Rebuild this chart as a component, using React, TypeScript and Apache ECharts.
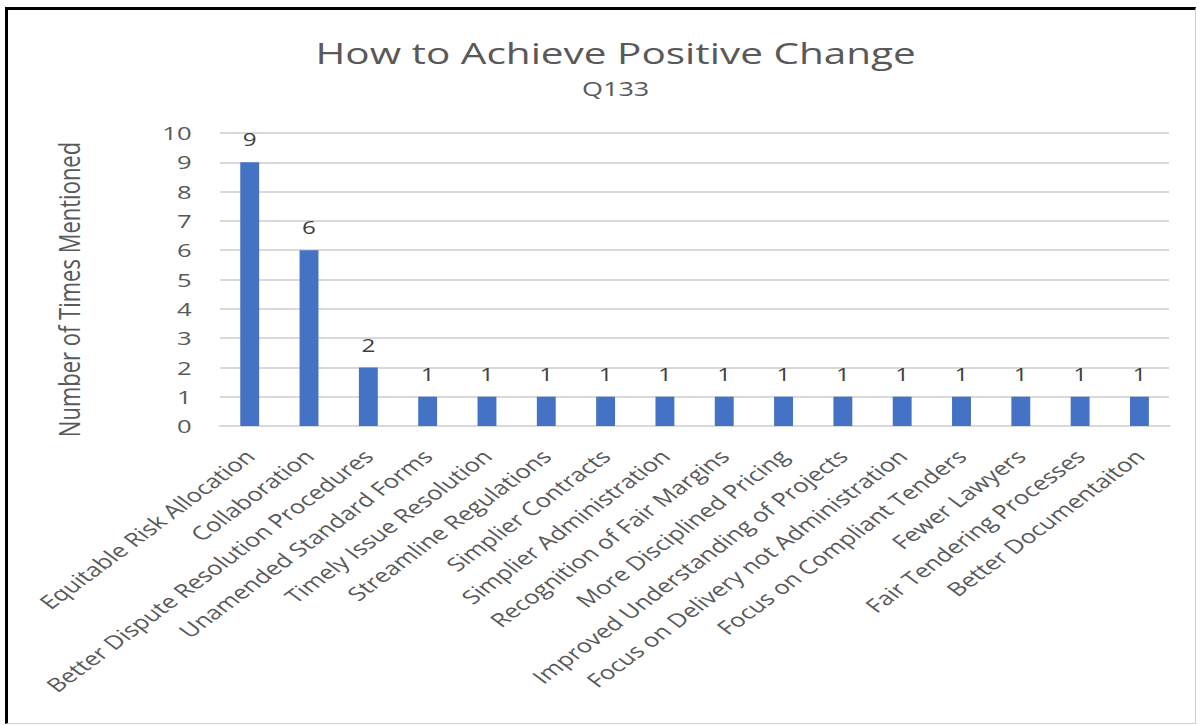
import React, { useEffect, useRef } from "react";
import * as echarts from "echarts";

const categories = [
  "Equitable Risk Allocation",
  "Collaboration",
  "Better Dispute Resolution Procedures",
  "Unamended Standard Forms",
  "Timely Issue Resolution",
  "Streamline Regulations",
  "Simplier Contracts",
  "Simplier Administration",
  "Recognition of Fair Margins",
  "More Disciplined Pricing",
  "Improved Understanding of Projects",
  "Focus on Delivery not Administration",
  "Focus on Compliant Tenders",
  "Fewer Lawyers",
  "Fair Tendering Processes",
  "Better Documentaiton",
];
const mentions = [9, 6, 2, 1, 1, 1, 1, 1, 1, 1, 1, 1, 1, 1, 1, 1];
const titleText = "How to Achieve Positive Change";
const subtitleText = "Q133";
const yAxisTitle = "Number of Times Mentioned";

const STRETCH = 1.35;
const W = 1203;
const H = 725;
const CW = Math.round(W / STRETCH);

export default function App() {
  const ref = useRef<HTMLDivElement>(null);
  useEffect(() => {
    document.body.style.margin = "0";
    const chart = echarts.init(ref.current!, null, { renderer: "svg" });
    chart.setOption({
      animation: false,
      backgroundColor: "#ffffff",
      title: [
        {
          text: titleText,
          left: 451,
          top: 32,
          textAlign: "center",
          textStyle: {
            fontFamily: "Open Sans",
            fontSize: 30,
            fontWeight: "normal",
            color: "#595959",
          },
        },
        {
          text: subtitleText,
          left: 451,
          top: 73,
          textAlign: "center",
          textStyle: {
            fontFamily: "Open Sans",
            fontSize: 20,
            fontWeight: "normal",
            color: "#595959",
          },
        },
      ],
      grid: {
        left: 163,
        right: CW - 866,
        top: 133,
        bottom: H - 426,
        containLabel: false,
        outerBoundsMode: "none",
      },
      xAxis: {
        type: "category",
        data: categories,
        axisLine: { lineStyle: { color: "#d9d9d9", width: 2 } },
        axisTick: { show: false },
        axisLabel: {
          rotate: 45,
          interval: 0,
          margin: 27,
          fontFamily: "Open Sans",
          fontSize: 19,
          color: "#595959",
        },
      },
      yAxis: {
        type: "value",
        min: 0,
        max: 10,
        interval: 1,
        name: yAxisTitle,
        nameLocation: "middle",
        nameGap: 101,
        nameTextStyle: {
          fontFamily: "Open Sans",
          fontSize: 22,
          color: "#595959",
          padding: [0, 20, 0, 0],
        },
        axisLine: { show: false },
        axisTick: { show: false },
        axisLabel: {
          margin: 21,
          fontFamily: "Open Sans",
          fontSize: 19,
          color: "#595959",
        },
        splitLine: { lineStyle: { color: "#d9d9d9", width: 2 } },
      },
      series: [
        {
          type: "bar",
          data: mentions,
          barWidth: 14,
          itemStyle: { color: "#4472c4" },
          label: {
            show: true,
            position: "top",
            distance: 14,
            fontFamily: "Open Sans",
            fontSize: 18,
            color: "#404040",
          },
        },
      ],
    });
    return () => chart.dispose();
  }, []);
  return (
    <div
      style={{
        position: "absolute",
        left: 0,
        top: 0,
        width: W,
        height: H,
        overflow: "hidden",
        background: "#ffffff",
      }}
    >
      <div
        ref={ref}
        style={{
          position: "absolute",
          left: 0,
          top: 0,
          width: CW,
          height: H,
          transform: `scale(${STRETCH}, 1)`,
          transformOrigin: "0 0",
        }}
      />
      <div
        style={{
          position: "absolute",
          left: 5,
          top: 7,
          width: 1187,
          height: 713,
          borderLeft: "3px solid #000",
          borderTop: "3px solid #000",
          borderRight: "1px solid #d0d0d0",
          borderBottom: "1px solid #d0d0d0",
          pointerEvents: "none",
        }}
      />
    </div>
  );
}
